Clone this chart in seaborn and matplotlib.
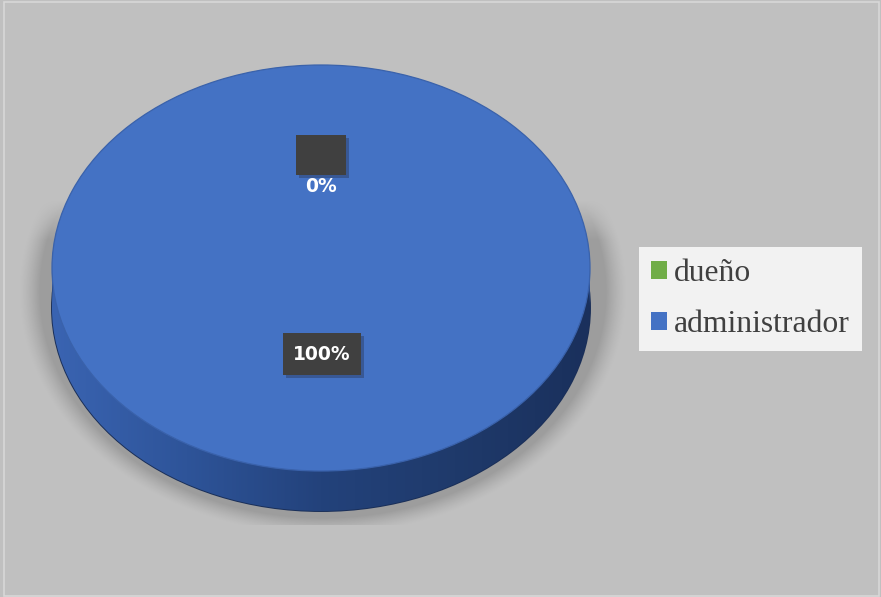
import numpy as np
import matplotlib
matplotlib.use("Agg")
import matplotlib.pyplot as plt
import seaborn as sns
from matplotlib.patches import Rectangle, Patch, Ellipse

# Chart data
categories = ["dueño", "administrador"]
values = [0, 100]

sns.set_theme(style="white")
plt.rcParams["font.family"] = ["DejaVu Sans"]
colors = sns.color_palette(["#70ad47", "#4472c4"])

W, H = 881, 597
fig = plt.figure(figsize=(W / 100, H / 100), dpi=100)
fig.patch.set_facecolor("#c0c0c0")
ax = fig.add_axes([0, 0, 1, 1])
ax.set_facecolor("#c0c0c0")

# pie geometry in pixels: centre, horizontal / vertical radius, thickness
cx, cy, rx, ry, depth = 321, 268, 269, 203, 40


def px(x, y):
    """Pixel position -> data coordinates of the flattened pie."""
    return (x - cx) / rx, (cy - y) / ry


x0, y1 = px(0, 0)
x1, y0 = px(W, H)

# soft drop shadow below the disc, cut off along a horizontal floor line
gx = np.arange(W) + 0.5
gy = np.arange(H) + 0.5
XX, YY = np.meshgrid(gx, gy)
d = np.sqrt(((XX - 323) / 283) ** 2 + ((YY - 292) / 226) ** 2)
alpha = 0.30 * np.clip((1.075 - d) / 0.075, 0, 1) ** 1.4
alpha[YY > 525] = 0
alpha[YY < 240] *= np.clip((YY[YY < 240] - 200) / 40, 0, 1)
shadow = np.zeros((H, W, 4))
shadow[..., :3] = 0.30
shadow[..., 3] = alpha
ax.imshow(shadow, extent=(x0, x1, y0, y1), origin="upper", zorder=0,
          aspect="auto", interpolation="bilinear")

dz = depth / ry
side_col = "#2a4c8c"
# side wall of the disc
side_wedges, _ = ax.pie(values, colors=[side_col] * len(values), startangle=90,
                        counterclock=False, center=(0, -dz), radius=1,
                        wedgeprops=dict(linewidth=1.4, edgecolor="#1a2f58"))
for w in side_wedges:
    w.set_zorder(1)
ax.add_patch(Rectangle((-1, -dz), 2, dz, facecolor=side_col, edgecolor="none", zorder=1.5))

# horizontal shading on the side wall: lit on the left, dark towards the right
grad = np.linspace(0, 1, 256)[None, :]
cmap = matplotlib.colors.LinearSegmentedColormap.from_list(
    "side", ["#3a64b2", "#2e5499", "#23427b", "#1f3a6b", "#1a305c"])
im = ax.imshow(grad, extent=(-1, 1, -1 - dz, 0), cmap=cmap, aspect="auto", zorder=1.6)
clip = Ellipse((0, -dz), 2, 2, transform=ax.transData)
im.set_clip_path(clip)

# top face
top_wedges, _ = ax.pie(values, colors=colors, startangle=90, counterclock=False,
                       center=(0, 0), radius=1,
                       wedgeprops=dict(linewidth=0.9, edgecolor="#3a62ab"))
for w in top_wedges:
    w.set_zorder(3)

ax.set_aspect("auto")
ax.set_xlim(x0, x1)
ax.set_ylim(y0, y1)
ax.axis("off")

# percentage labels
total = sum(values)
pct = [f"{v / total * 100:.0f}%" for v in values]


def label_box(left, top, right, bottom):
    bx0, by0 = px(left, bottom)
    bx1, by1 = px(right, top)
    sx, sy = 3 / rx, 3 / ry
    ax.add_patch(Rectangle((bx0 + sx, by0 - sy), bx1 - bx0, by1 - by0,
                           facecolor="#2a3a5c", edgecolor="none", alpha=0.45, zorder=4))
    ax.add_patch(Rectangle((bx0, by0), bx1 - bx0, by1 - by0,
                           facecolor="#404040", edgecolor="none", zorder=4.5))


# label for the empty slice: its box sits above the text
label_box(296, 135, 346, 175)
tx, ty = px(321, 186)
ax.text(tx, ty, pct[0], ha="center", va="center", color="white",
        fontsize=13.5, fontweight="bold", zorder=5)

label_box(283, 333, 361, 375)
tx, ty = px(322, 355)
ax.text(tx, ty, pct[1], ha="center", va="center", color="white",
        fontsize=13.5, fontweight="bold", zorder=5)

# legend
handles = [Patch(facecolor=c, edgecolor="none") for c in colors]
leg = fig.legend(handles, categories, loc="upper left",
                 bbox_to_anchor=(639 / W, 1 - 247 / H), frameon=True,
                 facecolor="#f2f2f2", edgecolor="none", framealpha=1, fancybox=False,
                 prop=dict(family="Liberation Serif", size=22.8),
                 labelcolor="#404040", handlelength=0.5, handleheight=0.5,
                 handletextpad=0.22, labelspacing=0.7, borderpad=0.38,
                 borderaxespad=0)

# thin light frame around the chart area
fig.add_artist(Rectangle((3.5 / W, 1.5 / H), 1 - 6 / W, 1 - 3 / H,
                         transform=fig.transFigure, facecolor="none",
                         edgecolor="#d8d8d8", linewidth=1.2))

fig.savefig("out.png", dpi=100, facecolor=fig.get_facecolor())
